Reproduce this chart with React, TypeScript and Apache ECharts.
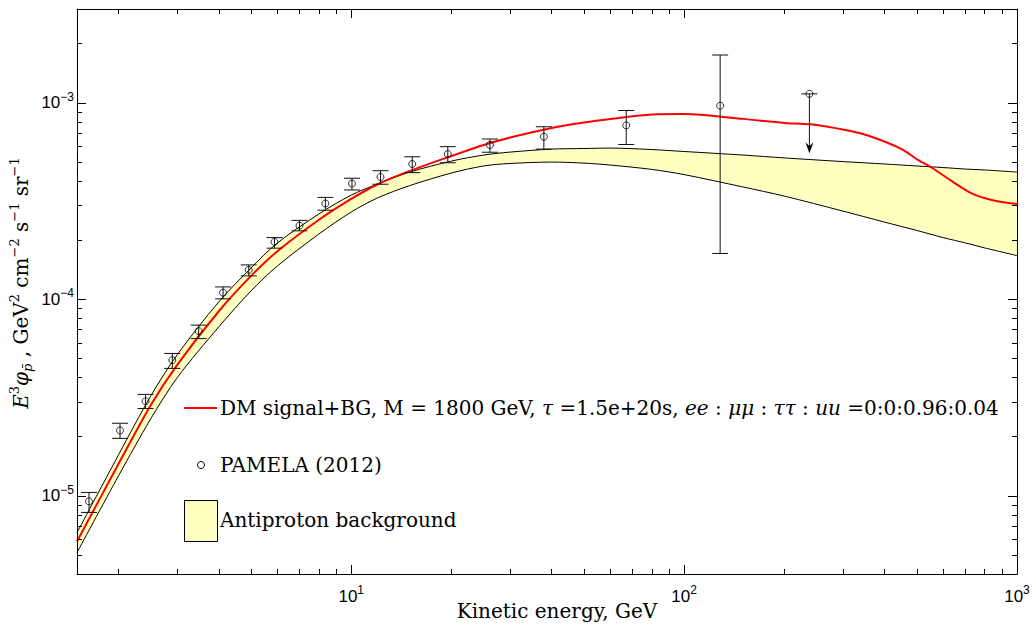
import React, { useEffect, useRef } from 'react';
import * as echarts from 'echarts';

// ---------- data ----------
const xMajor = [10, 100, 1000];
const xMinor = [2, 3, 4, 5, 6, 7, 8, 9, 20, 30, 40, 50, 60, 70, 80, 90, 200, 300, 400, 500, 600, 700, 800, 900];
const yMajor = [1e-5, 1e-4, 1e-3];
const yMinor = [5e-6, 6e-6, 7e-6, 8e-6, 9e-6, 2e-5, 3e-5, 4e-5, 5e-5, 6e-5, 7e-5, 8e-5, 9e-5,
  2e-4, 3e-4, 4e-4, 5e-4, 6e-4, 7e-4, 8e-4, 9e-4, 2e-3];

// antiproton background band (upper / lower edge)
const bgE = [1.5, 2, 2.5, 3, 4, 5, 6, 8, 10, 12, 15, 20, 25, 30, 40, 50, 60, 80, 100, 150, 200, 300, 400, 500, 600, 700, 800, 1000];
const bgUpper = [6.49e-6, 1.618e-5, 3.23e-5, 5.22e-5, 9.7e-5, 1.444e-4, 1.935e-4, 2.72e-4, 3.39e-4, 3.86e-4, 4.44e-4, 5.05e-4, 5.42e-4, 5.61e-4,
  5.81e-4, 5.85e-4, 5.88e-4, 5.78e-4, 5.65e-4, 5.42e-4, 5.24e-4, 5.02e-4, 4.88e-4, 4.77e-4, 4.68e-4, 4.6e-4, 4.55e-4, 4.44e-4];
const bgLower = [5.14e-6, 1.265e-5, 2.47e-5, 3.99e-5, 7.24e-5, 1.103e-4, 1.478e-4, 2.15e-4, 2.78e-4, 3.28e-4, 3.79e-4, 4.39e-4, 4.77e-4, 4.91e-4,
  4.99e-4, 4.93e-4, 4.82e-4, 4.58e-4, 4.31e-4, 3.73e-4, 3.35e-4, 2.81e-4, 2.47e-4, 2.24e-4, 2.06e-4, 1.935e-4, 1.825e-4, 1.668e-4];

// DM signal + background
const dmE = [1.5, 2, 2.5, 3, 4, 5, 6, 8, 10, 12, 15, 20, 25, 30, 40, 50, 60, 80, 100, 150, 200, 240, 305, 360, 450, 505, 555, 640, 730, 840, 1000];
const dmFlux = [5.86e-6, 1.456e-5, 2.9e-5, 4.64e-5, 8.69e-5, 1.315e-4, 1.756e-4, 2.54e-4, 3.24e-4, 3.85e-4, 4.5e-4, 5.36e-4, 6.1e-4, 6.65e-4,
  7.44e-4, 7.93e-4, 8.26e-4, 8.71e-4, 8.76e-4, 8.28e-4, 7.9e-4, 7.77e-4, 7.26e-4, 6.77e-4, 5.81e-4, 5.11e-4, 4.67e-4, 3.97e-4, 3.46e-4, 3.2e-4, 3.05e-4];

// PAMELA (2012)
const pamE = [1.63, 2.02, 2.41, 2.9, 3.48, 4.12, 4.92, 5.88, 6.99, 8.36, 10.05, 12.24, 15.25, 19.5, 26.1, 37.9, 67.0, 128.3];
const pamY = [9.37e-6, 2.15e-5, 3.03e-5, 4.9e-5, 6.89e-5, 1.081e-4, 1.411e-4, 1.959e-4, 2.37e-4, 3.07e-4, 3.88e-4, 4.19e-4, 4.88e-4, 5.48e-4, 6.1e-4, 6.72e-4, 7.67e-4, 9.66e-4];
const pamLo = [8.23e-6, 1.96e-5, 2.78e-5, 4.45e-5, 6.31e-5, 1.005e-4, 1.315e-4, 1.82e-4, 2.23e-4, 2.84e-4, 3.6e-4, 3.85e-4, 4.41e-4, 4.95e-4, 5.6e-4, 5.81e-4, 6.13e-4, 1.71e-4];
const pamHi = [1.04e-5, 2.34e-5, 3.28e-5, 5.3e-5, 7.39e-5, 1.156e-4, 1.496e-4, 2.06e-4, 2.52e-4, 3.3e-4, 4.13e-4, 4.51e-4, 5.31e-4, 5.98e-4, 6.54e-4, 7.55e-4, 9.13e-4, 1.75e-3];
// upper limit point
const ulE = [237.9];
const ulY = [1.11e-3];
const ulTip = [5.53e-4];

const SERIF = '"DejaVu Serif", "Liberation Serif", serif';
const SANS = '"Liberation Sans", Arial, Helvetica, sans-serif';
const YELLOW = '#ffffbf';

function powLabel(v: number) {
  const e = Math.round(Math.log10(v));
  const s = e < 0 ? '\u2212' + Math.abs(e) : String(e);
  return `{b|10}{s|${s}}`;
}
const labelRich = {
  b: { fontFamily: SANS, fontSize: 17, lineHeight: 24, color: '#000' },
  s: { fontFamily: SANS, fontSize: 12, lineHeight: 10, verticalAlign: 'top', color: '#000' },
};

export default function App() {
  const ref = useRef<HTMLDivElement>(null);
  useEffect(() => {
    if (!ref.current) return;
    const chart = echarts.init(ref.current, undefined, { renderer: 'svg' });
    const black = { color: '#000', width: 1 };
    const baseX: any = { type: 'log', logBase: 10, min: 1.5, max: 1000, gridIndex: 0, z: 10, splitLine: { show: false } };
    const baseY: any = { type: 'log', logBase: 10, min: 4e-6, max: 3e-3, gridIndex: 0, z: 10, splitLine: { show: false } };
    const major = (vals: number[]) => ({ show: true, inside: true, length: 9, customValues: vals, lineStyle: black });
    const minor = (vals: number[]) => ({ show: true, inside: true, length: 5, customValues: vals, lineStyle: black });

    const pamData = pamE.map((e, i) => [e, pamY[i], pamLo[i], pamHi[i]]);
    const ulData = ulE.map((e, i) => [e, ulY[i], ulTip[i]]);
    const smooth = 0.3;

    const option: any = {
      animation: false,
      grid: { left: 77, right: 18, top: 9, bottom: 54 },
      xAxis: [
        { ...baseX, position: 'bottom', axisLine: { show: true, lineStyle: black }, axisTick: major(xMajor),
          axisLabel: { show: true, customValues: xMajor, formatter: (v: number) => powLabel(v), rich: labelRich, margin: 10 } },
        { ...baseX, position: 'bottom', axisLine: { show: false }, axisTick: minor(xMinor), axisLabel: { show: false } },
        { ...baseX, position: 'top', axisLine: { show: true, lineStyle: black }, axisTick: major(xMajor), axisLabel: { show: false } },
        { ...baseX, position: 'top', axisLine: { show: false }, axisTick: minor(xMinor), axisLabel: { show: false } },
      ],
      yAxis: [
        { ...baseY, position: 'left', axisLine: { show: true, lineStyle: black }, axisTick: major(yMajor),
          axisLabel: { show: true, customValues: yMajor, formatter: (v: number) => powLabel(v), rich: labelRich, margin: 3 } },
        { ...baseY, position: 'left', axisLine: { show: false }, axisTick: minor(yMinor), axisLabel: { show: false } },
        { ...baseY, position: 'right', axisLine: { show: true, lineStyle: black }, axisTick: major(yMajor), axisLabel: { show: false } },
        { ...baseY, position: 'right', axisLine: { show: false }, axisTick: minor(yMinor), axisLabel: { show: false } },
      ],
      series: [
        // upper edge of the background band, yellow filled down to the axis
        {
          name: 'Antiproton background', type: 'line', xAxisIndex: 0, yAxisIndex: 0, z: 1,
          showSymbol: false, smooth,
          data: bgE.map((e, i) => [e, bgUpper[i]]),
          lineStyle: { color: '#000', width: 1 },
          areaStyle: { color: YELLOW, opacity: 1, origin: 'start' },
        },
        // lower edge of the band, white below it
        {
          name: 'Antiproton background (lower)', type: 'line', xAxisIndex: 0, yAxisIndex: 0, z: 2,
          showSymbol: false, smooth,
          data: bgE.map((e, i) => [e, bgLower[i]]),
          lineStyle: { color: '#000', width: 1 },
          areaStyle: { color: '#ffffff', opacity: 1, origin: 'start' },
        },
        {
          name: 'DM signal+BG', type: 'line', xAxisIndex: 0, yAxisIndex: 0, z: 3,
          showSymbol: false, smooth,
          data: dmE.map((e, i) => [e, dmFlux[i]]),
          lineStyle: { color: '#ff0000', width: 2 },
        },
        {
          name: 'PAMELA errors', type: 'custom', xAxisIndex: 0, yAxisIndex: 0, z: 4,
          data: pamData,
          renderItem: (params: any, api: any) => {
            const c = api.coord([api.value(0), api.value(1)]);
            const lo = api.coord([api.value(0), api.value(2)]);
            const hi = api.coord([api.value(0), api.value(3)]);
            const st = { stroke: '#111', lineWidth: 1 };
            return {
              type: 'group',
              children: [
                { type: 'line', shape: { x1: c[0], y1: hi[1], x2: c[0], y2: lo[1] }, style: st },
                { type: 'line', shape: { x1: c[0] - 8, y1: hi[1], x2: c[0] + 8, y2: hi[1] }, style: st },
                { type: 'line', shape: { x1: c[0] - 8, y1: lo[1], x2: c[0] + 8, y2: lo[1] }, style: st },
              ],
            };
          },
        },
        {
          name: 'PAMELA upper limit', type: 'custom', xAxisIndex: 0, yAxisIndex: 0, z: 4,
          data: ulData,
          renderItem: (params: any, api: any) => {
            const c = api.coord([api.value(0), api.value(1)]);
            const t = api.coord([api.value(0), api.value(2)]);
            const st = { stroke: '#111', lineWidth: 1 };
            return {
              type: 'group',
              children: [
                { type: 'line', shape: { x1: c[0], y1: c[1], x2: c[0], y2: t[1] - 6 }, style: st },
                { type: 'line', shape: { x1: c[0] - 8, y1: c[1], x2: c[0] + 8, y2: c[1] }, style: st },
                { type: 'polygon', shape: { points: [[c[0], t[1]], [c[0] - 4, t[1] - 11], [c[0], t[1] - 7], [c[0] + 4, t[1] - 11]] }, style: { fill: '#000' } },
              ],
            };
          },
        },
        {
          name: 'PAMELA (2012)', type: 'scatter', xAxisIndex: 0, yAxisIndex: 0, z: 5,
          symbol: 'circle', symbolSize: 7,
          data: [...pamE.map((e, i) => [e, pamY[i]]), ...ulE.map((e, i) => [e, ulY[i]])],
          itemStyle: { color: 'rgba(0,0,0,0)', borderColor: '#000', borderWidth: 1 },
        },
      ],
      graphic: [
        // y axis title
        {
          type: 'text', x: 21, y: 283, rotation: Math.PI / 2, z: 10,
          style: {
            text: '{i|E}{sp|3}{i|\u03c6}{sb|p\u0304} , GeV{sp|2} cm{sp|\u22122} s{sp|\u22121} sr{sp|\u22121}',
            fontFamily: SERIF, fontSize: 20, lineHeight: 26, fill: '#000', align: 'center', verticalAlign: 'middle',
            rich: {
              i: { fontFamily: SERIF, fontSize: 20, fontStyle: 'italic', lineHeight: 26 },
              sp: { fontFamily: SERIF, fontSize: 13, lineHeight: 13, verticalAlign: 'top' },
              sb: { fontFamily: SERIF, fontSize: 13, fontStyle: 'italic', lineHeight: 13, verticalAlign: 'bottom' },
            },
          },
        },
        // x axis title
        {
          type: 'text', x: 557, y: 611, z: 10,
          style: { text: 'Kinetic energy, GeV', fontFamily: SERIF, fontSize: 20, fill: '#000', align: 'center', verticalAlign: 'middle' },
        },
        // legend
        { type: 'line', z: 10, shape: { x1: 184, y1: 408, x2: 217, y2: 408 }, style: { stroke: '#ff0000', lineWidth: 2 } },
        {
          type: 'text', x: 220, y: 408, z: 10,
          style: {
            text: 'DM signal+BG, M = 1800 GeV, {i|\u03c4} =1.5e+20s, {i|ee} : {i|\u03bc\u03bc} : {i|\u03c4\u03c4} : {i|uu} =0:0:0.96:0.04',
            fontFamily: SERIF, fontSize: 20, lineHeight: 24, fill: '#000', align: 'left', verticalAlign: 'middle',
            rich: { i: { fontFamily: SERIF, fontSize: 20, fontStyle: 'italic', lineHeight: 24 } },
          },
        },
        { type: 'circle', z: 10, shape: { cx: 201, cy: 465, r: 3.5 }, style: { fill: 'none', stroke: '#000', lineWidth: 1 } },
        {
          type: 'text', x: 220, y: 465, z: 10,
          style: { text: 'PAMELA (2012)', fontFamily: SERIF, fontSize: 20, fill: '#000', align: 'left', verticalAlign: 'middle' },
        },
        { type: 'rect', z: 10, shape: { x: 184.5, y: 500.5, width: 33, height: 41 }, style: { fill: YELLOW, stroke: '#000', lineWidth: 1 } },
        {
          type: 'text', x: 220, y: 520, z: 10,
          style: { text: 'Antiproton background', fontFamily: SERIF, fontSize: 20, fill: '#000', align: 'left', verticalAlign: 'middle' },
        },
      ],
    };
    chart.setOption(option);
    return () => chart.dispose();
  }, []);
  return <div ref={ref} style={{ position: 'absolute', left: 0, top: 0, width: 1035, height: 628, background: '#fff' }} />;
}
